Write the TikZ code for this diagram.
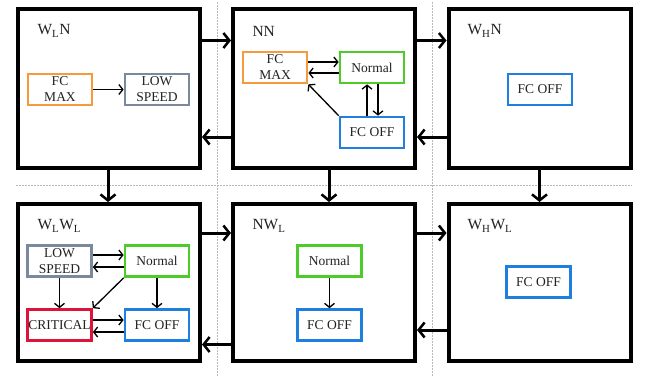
\documentclass[tikz,border=0pt]{standalone}
\usepackage{fontspec}
\setmainfont{Liberation Serif}
\usetikzlibrary{arrows.meta}
\definecolor{cOrange}{HTML}{F79A3E}
\definecolor{cGray}{HTML}{7A8A9C}
\definecolor{cGreen}{HTML}{4CCB2A}
\definecolor{cRed}{HTML}{DC143C}
\definecolor{cBlue}{HTML}{1E7FE0}
\definecolor{txt}{HTML}{222222}
\begin{document}
\begin{tikzpicture}[x=1pt,y=-1pt,
 outer/.style={draw, fill=white, line width=4pt, minimum width=182pt, minimum height=159pt, inner sep=0pt},
 outerb/.style={outer, minimum height=157pt},
 state/.style={draw, fill=white, line width=2.7pt, minimum width=64pt, minimum height=31pt, inner sep=0.5pt, align=center, font=\rmfamily\fontsize{13.5}{16}\selectfont, text=txt},
 title/.style={anchor=west, font=\rmfamily\fontsize{15.5}{17}\selectfont, text=txt},
 big/.style={line width=3pt, -{Straight Barb[length=6pt,width=15pt,line width=2.5pt]}},
 small/.style={line width=1.3pt, -{Straight Barb[length=4pt,width=10pt,line width=1.3pt]}},
 gridline/.style={gray!55, line width=0.8pt, dash pattern=on 1.5pt off 1.5pt}]
\useasboundingbox (0,0) rectangle (651,378);
% dotted grid
\coordinate (v1a) at (217,2); \coordinate (v1b) at (217,377);
\coordinate (v2a) at (432,2); \coordinate (v2b) at (432,377);
\coordinate (h1a) at (16,185); \coordinate (h1b) at (632,185);
\draw[gridline] (v1a) -- (v1b);
\draw[gridline] (v2a) -- (v2b);
\draw[gridline] (h1a) -- (h1b);
% outer boxes
\node[outer] (WLN) at (109,88.5) {};
\node[outer] (NN) at (324,88.5) {};
\node[outer] (WHN) at (539.5,88.5) {};
\node[outerb] (WLWL) at (109,282.5) {};
\node[outerb] (NWL) at (324,282.5) {};
\node[outerb] (WHWL) at (539.5,282.5) {};
% titles
\node[title] (tWLN) at (34,31) {W\textsubscript{L}N};
\node[title] (tNN) at (249,31) {NN};
\node[title] (tWHN) at (464,31) {W\textsubscript{H}N};
\node[title] (tWLWL) at (34,226) {W\textsubscript{L}W\textsubscript{L}};
\node[title] (tNWL) at (249,226) {NW\textsubscript{L}};
\node[title] (tWHWL) at (464,226) {W\textsubscript{H}W\textsubscript{L}};
% inter-box arrows
\draw[big] ([yshift=48pt]WLN.east) -- ([yshift=48pt]NN.west);
\draw[big] ([yshift=-48.5pt]NN.west) -- ([yshift=-48.5pt]WLN.east);
\draw[big] ([yshift=48pt]NN.east) -- ([yshift=48pt]WHN.west);
\draw[big] ([yshift=-48.5pt]WHN.west) -- ([yshift=-48.5pt]NN.east);
\draw[big] ([xshift=-1pt]WLN.south) -- ([xshift=-1pt]WLWL.north);
\draw[big] ([xshift=5pt]NN.south) -- ([xshift=5pt]NWL.north);
\draw[big] (WHN.south) -- (WHWL.north);
\draw[big] ([yshift=49.5pt]WLWL.east) -- ([yshift=49.5pt]NWL.west);
\draw[big] ([yshift=-62pt]NWL.west) -- ([yshift=-62pt]WLWL.east);
\draw[big] ([yshift=49.5pt]NWL.east) -- ([yshift=49.5pt]WHWL.west);
\draw[big] ([yshift=-47.5pt]WHWL.west) -- ([yshift=-47.5pt]NWL.east);
% WLN states
\node[state, draw=cOrange] (a1) at (60,89.5) {FC\\MAX};
\node[state, draw=cGray] (a2) at (157,89.5) {LOW\\SPEED};
\draw[small] (a1) -- (a2);
% NN states
\node[state, draw=cOrange] (b1) at (275,67.5) {FC\\MAX};
\node[state, draw=cGreen] (b2) at (372,67.5) {Normal};
\node[state, draw=cBlue] (b3) at (372,132.5) {FC OFF};
\draw[small] ([yshift=5.5pt]b1.east) -- ([yshift=5.5pt]b2.west);
\draw[small] ([yshift=-5.5pt]b2.west) -- ([yshift=-5.5pt]b1.east);
\draw[small] ([xshift=-5pt]b3.north) -- ([xshift=-5pt]b2.south);
\draw[small] ([xshift=6pt]b2.south) -- ([xshift=6pt]b3.north);
\draw[small] (b3.north west) -- (b1.south east);
% WHN states
\node[state, draw=cBlue] (c1) at (540,89.5) {FC OFF};
% WLWL states
\node[state, draw=cGray] (d1) at (59.5,261) {LOW\\SPEED};
\node[state, draw=cGreen] (d2) at (157,261) {Normal};
\node[state, draw=cRed] (d3) at (59.5,325) {CRITICAL};
\node[state, draw=cBlue] (d4) at (157,325) {FC OFF};
\draw[small] ([yshift=6pt]d1.east) -- ([yshift=6pt]d2.west);
\draw[small] ([yshift=-6pt]d2.west) -- ([yshift=-6pt]d1.east);
\draw[small] (d1) -- (d3);
\draw[small] (d2) -- (d4);
\draw[small] (d2.south west) -- (d3.north east);
\draw[small] ([yshift=5pt]d3.east) -- ([yshift=5pt]d4.west);
\draw[small] ([yshift=-7pt]d4.west) -- ([yshift=-7pt]d3.east);
% NWL states
\node[state, draw=cGreen] (e1) at (329.5,261) {Normal};
\node[state, draw=cBlue] (e2) at (329.5,325) {FC OFF};
\draw[small] (e1) -- (e2);
% WHWL states
\node[state, draw=cBlue] (f1) at (538.5,282) {FC OFF};
\end{tikzpicture}
\end{document}
